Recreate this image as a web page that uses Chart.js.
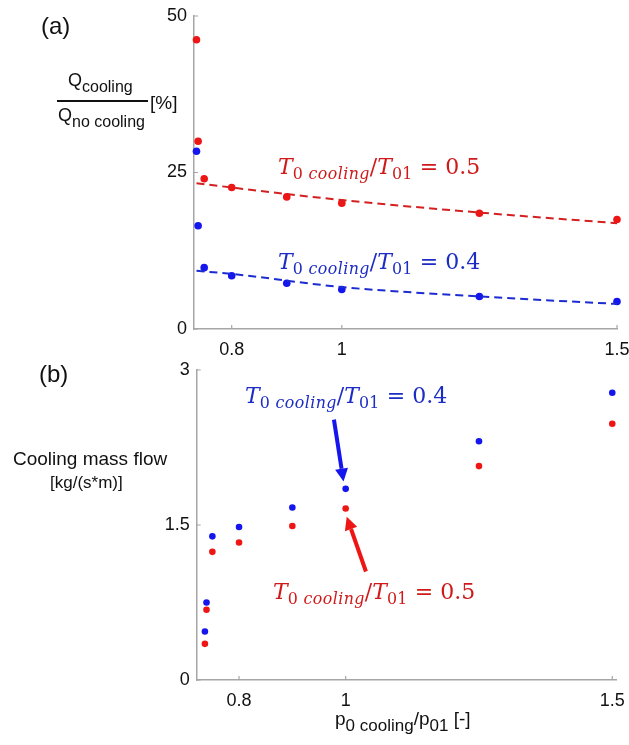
<!DOCTYPE html>
<html>
<head>
<meta charset="utf-8">
<script src="https://cdn.jsdelivr.net/npm/chart.js@4.4.0/dist/chart.umd.min.js"></script>
<style>
  html, body { margin: 0; padding: 0; background: #fff; }
  #wrap { position: relative; width: 629px; height: 745px; overflow: hidden; font-family: "Liberation Sans", Arial, sans-serif; color: #111; }
  canvas { position: absolute; left: 0; }
  #ca { top: 0; }
  #cb { top: 355px; }
  .lbl { position: absolute; white-space: nowrap; line-height: 1; }
  .s { font-size: 16px; position: relative; top: 0.35em; }
  .ann { position: absolute; white-space: nowrap; line-height: 1; font-family: "DejaVu Serif", "Liberation Serif", serif; font-size: 22px; }
  .ann i { font-style: italic; }
  .ann .sub { font-size: 0.72em; position: relative; top: 0.3em; letter-spacing: 0.4px; }
  .red { color: #d01a1a; }
  .blue { color: #1c2cc4; }
</style>
</head>
<body>
<div id="wrap">
  <canvas id="ca" width="629" height="360"></canvas>
  <canvas id="cb" width="629" height="390"></canvas>

  <div class="lbl" style="left:41px; top:14px; font-size:24px;">(a)</div>
  <div class="lbl" style="left:39px; top:362px; font-size:24px;">(b)</div>

  <!-- y title (a): fraction -->
  <div class="lbl" style="left:68px; top:71px; font-size:18px;">Q<span class="s">cooling</span></div>
  <div style="position:absolute; left:57px; top:100px; width:91px; height:2px; background:#111;"></div>
  <div class="lbl" style="left:58px; top:106px; font-size:18px;">Q<span class="s">no cooling</span></div>
  <div class="lbl" style="left:150px; top:93px; font-size:19px;">[%]</div>

  <!-- y title (b) -->
  <div class="lbl" style="left:13px; top:449px; font-size:19px;">Cooling mass flow</div>
  <div class="lbl" style="left:50px; top:474px; font-size:17px;">[kg/(s*m)]</div>

  <!-- x title -->
  <div class="lbl" style="left:335px; top:709px; font-size:19px;">p<span class="s" style="font-size:17px">0 cooling</span>/p<span class="s" style="font-size:17px">01</span> [-]</div>

  <!-- annotations -->
  <div class="ann red" style="left:278px; top:156px;"><i>T</i><span class="sub">0 <i>cooling</i></span>/<i>T</i><span class="sub">01</span> = 0.5</div>
  <div class="ann blue" style="left:278px; top:251px;"><i>T</i><span class="sub">0 <i>cooling</i></span>/<i>T</i><span class="sub">01</span> = 0.4</div>
  <div class="ann blue" style="left:245px; top:385px;"><i>T</i><span class="sub">0 <i>cooling</i></span>/<i>T</i><span class="sub">01</span> = 0.4</div>
  <div class="ann red" style="left:273px; top:581px;"><i>T</i><span class="sub">0 <i>cooling</i></span>/<i>T</i><span class="sub">01</span> = 0.5</div>
</div>

<script>
// pressure ratio p0cooling/p01 of the computed cases
const pRatio = [0.736, 0.739, 0.75, 0.8, 0.9, 1, 1.25, 1.5];

// (a) heat flux ratio [%]
const heatT05 = [46.2, 30.0, 24.0, 22.6, 21.1, 20.1, 18.5, 17.5];
const heatT04 = [28.4, 16.5, 9.8, 8.5, 7.3, 6.3, 5.2, 4.4];

// (a) dashed trend lines
const trendX = [0.736, 0.8, 1, 1.25, 1.5];
const trendT05 = [23.3, 22.6, 20.6, 18.6, 16.9];
const trendT04 = [9.3, 8.8, 6.7, 5.2, 4.0];

// (b) cooling mass flow [kg/(s*m)]
const massT04 = [0.47, 0.75, 1.39, 1.48, 1.67, 1.85, 2.31, 2.78];
const massT05 = [0.35, 0.68, 1.24, 1.33, 1.49, 1.66, 2.07, 2.48];

// tick labels
const xTicks = [0.8, 1, 1.5];
const yTicksA = [0, 25, 50];
const yTicksB = [0, 1.5, 3];

const RED = '#ee1515';
const BLUE = '#1515ee';
const AXIS = '#a6a6a6';

const pts = (xs, ys) => xs.map((x, i) => ({ x: x, y: ys[i] }));

function dots(ys, color, r) {
  return {
    data: pts(pRatio, ys),
    showLine: false,
    pointRadius: r,
    pointBackgroundColor: color,
    pointBorderWidth: 0,
    clip: false
  };
}

function scales(xmin, xmax, yTicks, yWidth, xHeight) {
  return {
    x: {
      type: 'linear', min: xmin, max: xmax,
      afterBuildTicks: s => { s.ticks = xTicks.map(v => ({ value: v })); },
      afterFit: s => { s.height = xHeight; s.paddingLeft = 0; s.paddingRight = 0; },
      grid: { drawOnChartArea: false, drawTicks: false },
      border: { color: AXIS, width: 1.5 },
      ticks: { color: '#111', font: { family: 'Liberation Sans', size: 18 }, padding: 10, maxRotation: 0, callback: v => String(v) }
    },
    y: {
      type: 'linear', min: yTicks[0], max: yTicks[yTicks.length - 1],
      afterBuildTicks: s => { s.ticks = yTicks.map(v => ({ value: v })); },
      afterFit: s => { s.width = yWidth; s.paddingTop = 0; s.paddingBottom = 0; },
      grid: { drawOnChartArea: false, drawTicks: false },
      border: { color: AXIS, width: 1.5 },
      ticks: { color: '#111', font: { family: 'Liberation Sans', size: 18 }, padding: 7, callback: v => String(v) }
    }
  };
}

// short tick marks pointing into the plot area
const innerTicks = {
  id: 'innerTicks',
  afterDraw(chart) {
    const { ctx, chartArea: a, scales: { x, y } } = chart;
    ctx.save();
    ctx.strokeStyle = AXIS;
    ctx.lineWidth = 1.2;
    ctx.beginPath();
    x.ticks.forEach(t => {
      const px = x.getPixelForValue(t.value);
      ctx.moveTo(px, a.bottom);
      ctx.lineTo(px, a.bottom - 4);
    });
    y.ticks.forEach(t => {
      const py = y.getPixelForValue(t.value);
      ctx.moveTo(a.left, py);
      ctx.lineTo(a.left + 4, py);
    });
    ctx.stroke();
    ctx.restore();
  }
};

Chart.defaults.animation = false;
Chart.defaults.plugins.legend.display = false;
Chart.defaults.plugins.tooltip.enabled = false;

// (a)
new Chart(document.getElementById('ca'), {
  type: 'scatter',
  data: {
    datasets: [
      { data: pts(trendX, trendT05), showLine: true, borderColor: '#d42020', borderWidth: 2, borderDash: [8, 5], pointRadius: 0, cubicInterpolationMode: 'monotone', clip: false },
      { data: pts(trendX, trendT04), showLine: true, borderColor: '#1c2cd0', borderWidth: 2, borderDash: [8, 5], pointRadius: 0, cubicInterpolationMode: 'monotone', clip: false },
      dots(heatT05, RED, 3.8),
      dots(heatT04, BLUE, 3.8)
    ]
  },
  options: {
    responsive: false,
    layout: { padding: { left: 0, right: 12, top: 16, bottom: 0 } },
    scales: scales(0.7315, 1.5, yTicksA, 194, 31)
  },
  plugins: [innerTicks]
});

// arrows pointing at the labelled points in (b)
const arrowPlugin = {
  id: 'arrows',
  afterDatasetsDraw(chart, args, opts) {
    const { ctx, scales: { x, y } } = chart;
    opts.items.forEach(a => {
      const x0 = x.getPixelForValue(a.from[0]), y0 = y.getPixelForValue(a.from[1]);
      const x1 = x.getPixelForValue(a.to[0]), y1 = y.getPixelForValue(a.to[1]);
      const ang = Math.atan2(y1 - y0, x1 - x0);
      const hl = 13, hw = 6.5;
      const bx = x1 - hl * Math.cos(ang), by = y1 - hl * Math.sin(ang);
      ctx.save();
      ctx.strokeStyle = a.color;
      ctx.fillStyle = a.color;
      ctx.lineWidth = 4;
      ctx.beginPath();
      ctx.moveTo(x0, y0);
      ctx.lineTo(bx, by);
      ctx.stroke();
      ctx.beginPath();
      ctx.moveTo(x1, y1);
      ctx.lineTo(bx + hw * Math.sin(ang), by - hw * Math.cos(ang));
      ctx.lineTo(bx - hw * Math.sin(ang), by + hw * Math.cos(ang));
      ctx.closePath();
      ctx.fill();
      ctx.restore();
    });
  }
};

// (b)
new Chart(document.getElementById('cb'), {
  type: 'scatter',
  data: {
    datasets: [
      dots(massT04, BLUE, 3.3),
      dots(massT05, RED, 3.3)
    ]
  },
  options: {
    responsive: false,
    layout: { padding: { left: 0, right: 13, top: 15, bottom: 0 } },
    scales: scales(0.7206, 1.507, yTicksB, 196.7, 65),
    plugins: {
      arrows: {
        items: [
          { from: [0.978, 2.52], to: [0.996, 1.92], color: '#1515ee' },
          { from: [1.038, 1.05], to: [1.002, 1.58], color: '#ee1515' }
        ]
      }
    }
  },
  plugins: [arrowPlugin, innerTicks]
});
</script>
</body>
</html>
